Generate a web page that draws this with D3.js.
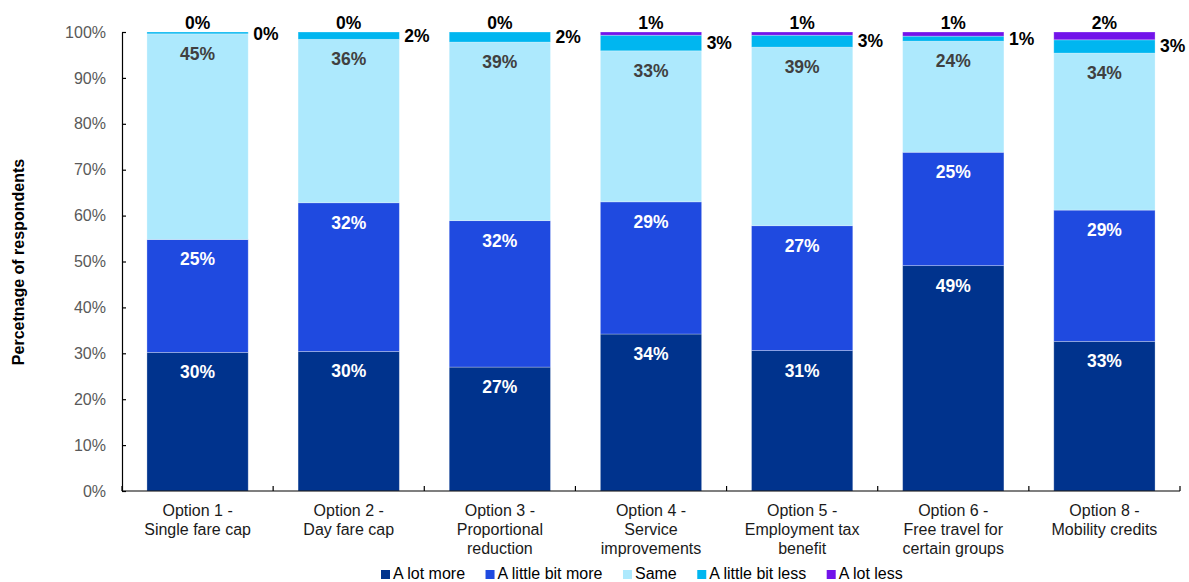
<!DOCTYPE html>
<html>
<head>
<meta charset="utf-8">
<script src="https://cdn.jsdelivr.net/npm/d3@7"></script>
<style>
  html, body { margin: 0; padding: 0; background: #ffffff; }
  svg { display: block; font-family: "Liberation Sans", Arial, sans-serif; }
</style>
</head>
<body>
<svg id="chart" width="1189" height="582"></svg>
<script>
// Survey options (each label split across lines)
const categories = [
  ["Option 1 -", "Single fare cap"],
  ["Option 2 -", "Day fare cap"],
  ["Option 3 -", "Proportional", "reduction"],
  ["Option 4 -", "Service", "improvements"],
  ["Option 5 -", "Employment tax", "benefit"],
  ["Option 6 -", "Free travel for", "certain groups"],
  ["Option 8 -", "Mobility credits"]
];

const seriesNames = ["A lot more", "A little bit more", "Same", "A little bit less", "A lot less"];

// Share of respondents (%) per option
const aLotMore       = [30.2, 30.4, 27.0, 34.2, 30.6, 49.1, 32.6];
const aLittleBitMore = [24.6, 32.4, 31.9, 28.8, 27.2, 24.7, 28.6];
const same           = [44.8, 35.6, 38.9, 32.9, 38.9, 24.2, 34.2];
const aLittleBitLess = [0.4, 1.6, 2.2, 3.4, 2.6, 1.1, 2.9];
const aLotLess       = [0.0, 0.0, 0.0, 0.7, 0.7, 0.9, 1.7];

const yTicks = [0, 10, 20, 30, 40, 50, 60, 70, 80, 90, 100];

const colors = ["#00338d", "#1f4ae0", "#ade9fd", "#00b6f0", "#7213ea"];

const svg = d3.select("#chart");
const plotLeft = 122, plotRight = 1180, plotTop = 32, plotBottom = 491;

const catKeys = categories.map(c => c.join(" "));
const x = d3.scaleBand().domain(catKeys).range([plotLeft, plotRight]).paddingInner(0.33).paddingOuter(0.165);
const y = d3.scaleLinear().domain([0, 100]).range([plotBottom, plotTop]);

const rows = catKeys.map((k, i) => ({
  key: k,
  "A lot more": aLotMore[i],
  "A little bit more": aLittleBitMore[i],
  "Same": same[i],
  "A little bit less": aLittleBitLess[i],
  "A lot less": aLotLess[i]
}));

const stacked = d3.stack().keys(seriesNames)(rows);
const fmt = v => d3.format(".0f")(v) + "%";

// Stacked bars
const layers = svg.append("g").selectAll("g").data(stacked).join("g")
  .attr("fill", (d, i) => colors[i]);
layers.selectAll("rect").data(d => d).join("rect")
  .attr("x", d => x(d.data.key))
  .attr("width", x.bandwidth())
  .attr("y", d => y(d[1]))
  .attr("height", d => Math.max(0, y(d[0]) - y(d[1])))
  .attr("stroke", "rgba(255,255,255,0.35)")
  .attr("stroke-width", 0.8);

// Y axis (ticks point into the plot)
const yAxis = d3.axisLeft(y).tickValues(yTicks).tickFormat(d => d + "%")
  .tickSizeInner(-4).tickSizeOuter(0).tickPadding(16);
const gy = svg.append("g").attr("transform", `translate(${plotLeft},0)`).call(yAxis);
gy.select(".domain").attr("stroke", "#000").attr("stroke-width", 1.2);
gy.selectAll(".tick line").attr("stroke", "#000").attr("stroke-width", 1.2);
gy.selectAll(".tick text").attr("fill", "#595959").attr("font-size", 16)
  .attr("font-family", "'Liberation Sans', Arial, sans-serif");

// X axis baseline with boundary ticks
const step = x.step();
const gx = svg.append("g");
gx.append("line").attr("x1", plotLeft).attr("x2", plotRight).attr("y1", y(0)).attr("y2", y(0))
  .attr("stroke", "#000").attr("stroke-width", 1.2);
const bounds = catKeys.map(k => x(k) - x.paddingInner() * step / 2).concat([plotRight]);
gx.selectAll("line.tk").data(bounds).join("line").attr("class", "tk")
  .attr("x1", d => d).attr("x2", d => d)
  .attr("y1", y(0)).attr("y2", y(0) - 5)
  .attr("stroke", "#000").attr("stroke-width", 1.2);

// Category labels
const cl = svg.append("g").selectAll("text").data(categories).join("text")
  .attr("text-anchor", "middle").attr("font-size", 16).attr("fill", "#1a1a1a")
  .attr("transform", (d, i) => `translate(${x(catKeys[i]) + x.bandwidth() / 2},516)`);
cl.selectAll("tspan").data(d => d).join("tspan")
  .attr("x", 0).attr("dy", (d, i) => i === 0 ? 0 : 19).text(d => d);

// Y axis title
svg.append("text")
  .attr("transform", `translate(24,262) rotate(-90)`)
  .attr("text-anchor", "middle").attr("font-size", 16).attr("font-weight", "bold")
  .attr("fill", "#000").text("Percetnage of respondents");

// Value labels inside the three lower segments
const inner = svg.append("g").attr("font-size", 17.5).attr("font-weight", "bold").attr("text-anchor", "middle");
stacked.slice(0, 3).forEach((layer, si) => {
  inner.selectAll(null).data(layer).join("text")
    .attr("x", d => x(d.data.key) + x.bandwidth() / 2)
    .attr("y", d => y(d[1]) + 26)
    .attr("fill", si === 2 ? "#404040" : "#ffffff")
    .text(d => fmt(d[1] - d[0]));
});

// "A little bit less" labels beside the bar
const lessLayer = stacked[3];
svg.append("g").selectAll("text").data(lessLayer).join("text")
  .attr("x", d => x(d.data.key) + x.bandwidth() + 5)
  .attr("y", d => Math.max((y(d[0]) + y(d[1])) / 2, 34) + 6)
  .attr("font-size", 17.5).attr("font-weight", "bold").attr("fill", "#000")
  .text(d => fmt(d[1] - d[0]));

// "A lot less" labels above the bar
const lotLessLayer = stacked[4];
svg.append("g").selectAll("text").data(lotLessLayer).join("text")
  .attr("x", d => x(d.data.key) + x.bandwidth() / 2)
  .attr("y", d => y(d[1]) - 3)
  .attr("text-anchor", "middle")
  .attr("font-size", 17.5).attr("font-weight", "bold").attr("fill", "#000")
  .text(d => fmt(d[1] - d[0]));

// Legend
const legend = svg.append("g").attr("font-size", 16).attr("fill", "#000");
let lx = 381;
seriesNames.forEach((name, i) => {
  legend.append("rect").attr("x", lx).attr("y", 570).attr("width", 9).attr("height", 9).attr("fill", colors[i]);
  const t = legend.append("text").attr("x", lx + 12).attr("y", 579).text(name);
  lx += 12 + t.node().getComputedTextLength() + 20.5;
});
</script>
</body>
</html>
